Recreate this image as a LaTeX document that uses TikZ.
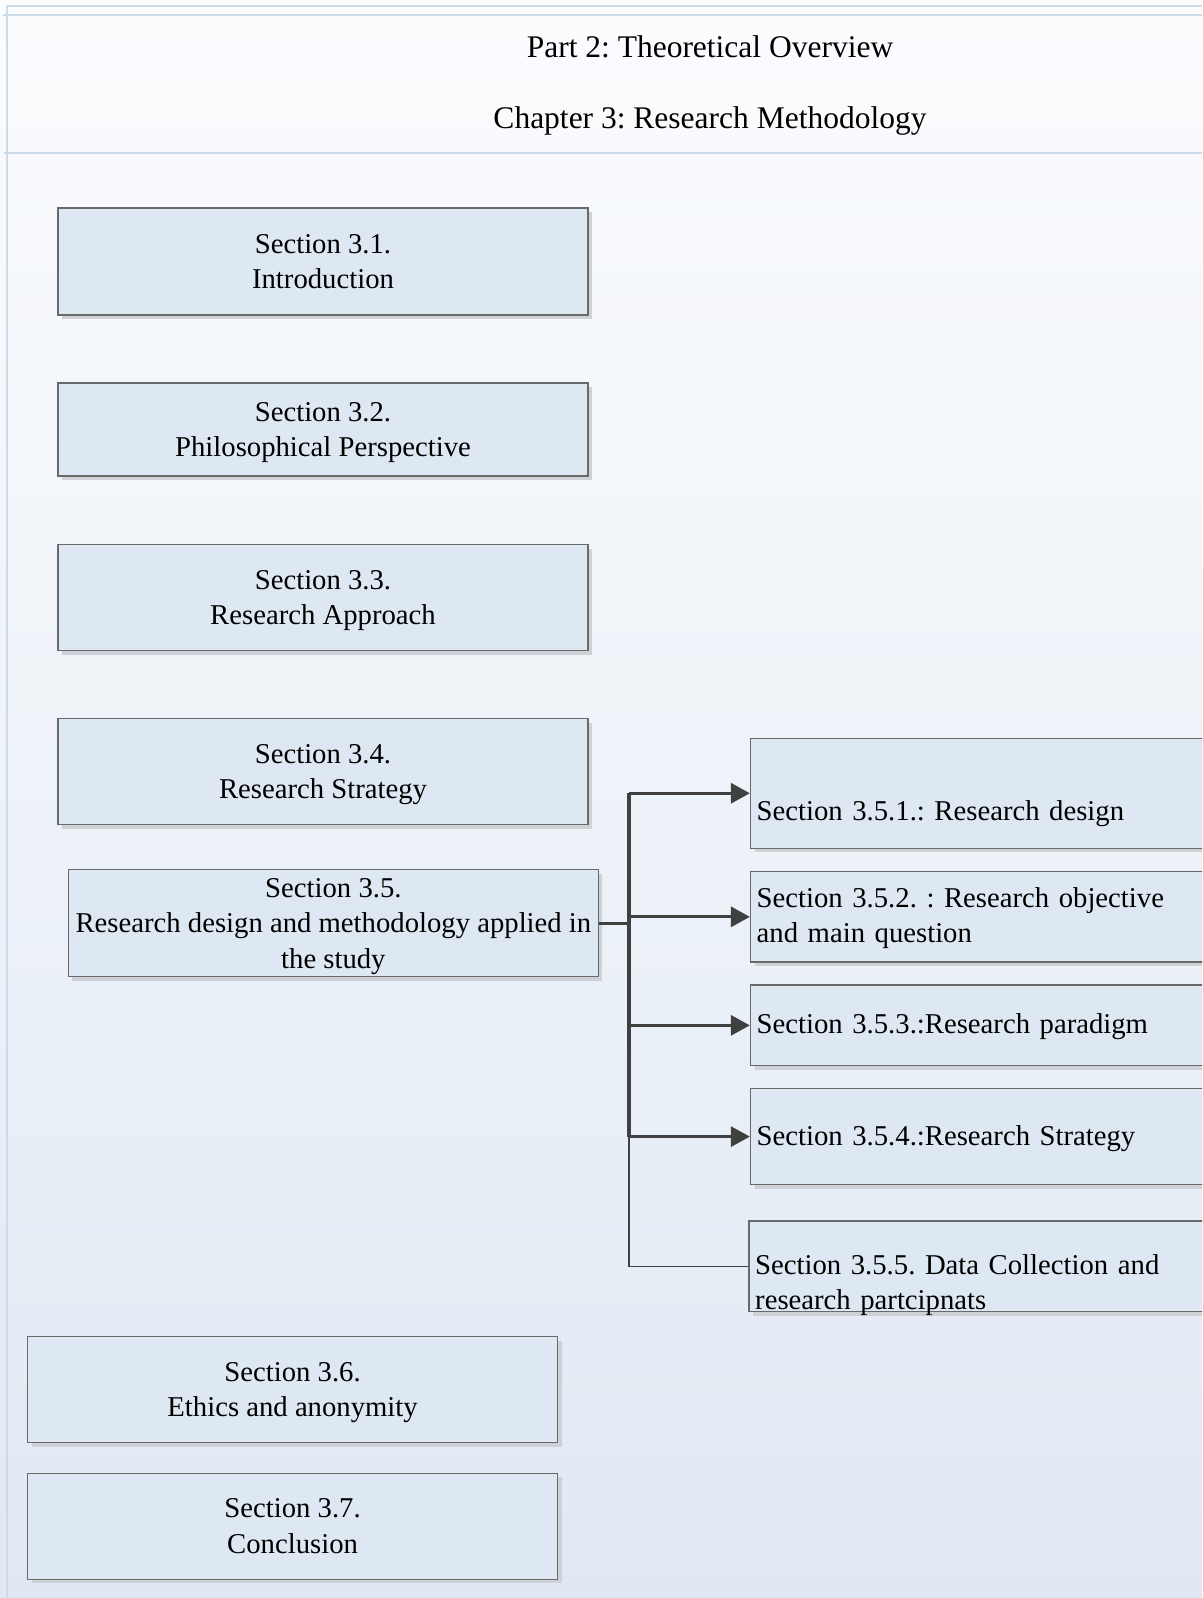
\documentclass[tikz,border=0pt]{standalone}
\usepackage{fontspec}
\setmainfont{Liberation Serif}
\usetikzlibrary{arrows.meta}
\frenchspacing

\definecolor{boxfill}{RGB}{222,232,242}
\definecolor{boxline}{RGB}{105,105,105}
\definecolor{boxshadow}{RGB}{206,210,215}
\definecolor{connc}{RGB}{64,64,64}
\definecolor{framec}{RGB}{204,219,234}
\definecolor{bgtop}{RGB}{251,252,254}
\definecolor{bgbottom}{RGB}{224,233,243}

% taller first line so labels whose last line has descenders sit a little lower
\newcommand\firstline{\rule{0pt}{25.5bp}}

\begin{document}
\begin{tikzpicture}[x=1bp,y=-1bp,
  shadowed/.style={preaction={fill=boxshadow, transform canvas={shift={(4bp,-4bp)}}}},
  secbox/.style={draw=boxline, line width=1.3bp, fill=boxfill, shadowed,
    minimum width=530bp, inner sep=0pt, align=center,
    font=\fontsize{28.7bp}{35.2bp}\selectfont},
  subbox/.style={draw=boxline, line width=1.3bp, fill=boxfill, shadowed,
    minimum width=464.5bp, inner sep=0pt},
  subtext/.style={anchor=base west, inner sep=0pt, text width=445bp, align=left,
    font=\fontsize{28.7bp}{35.2bp}\selectfont},
  headtext/.style={anchor=base, inner sep=0pt,
    font=\fontsize{31.5bp}{38bp}\selectfont},
  heavy/.style={draw=connc, line width=3.2bp},
  light/.style={draw=connc, line width=1.5bp},
  arr/.style={heavy, -{Triangle[length=19bp,width=20bp]}},
]
\useasboundingbox (0,0) rectangle (1202,1598);
\clip (0,0) rectangle (1202,1598);

% page background and pool frame
\shade[top color=bgtop, bottom color=bgbottom] (0,0) rectangle (1202,1598);
\draw[framec, line width=1.2bp] (7,1598) -- (7,6) -- (1202,6);
\draw[framec, line width=1.2bp] (3,15) -- (1202,15);
\draw[framec, line width=1.2bp] (4,153) -- (1202,153);

% header
\node[headtext] (part) at (710,58) {Part 2: Theoretical Overview};
\node[headtext] (chap) at (710,128.5) {Chapter 3: Research Methodology};

% main sections
\node[secbox, minimum height=107bp] (s31) at (323,261.5) {Section 3.1.\\Introduction};
\node[secbox, minimum height=93bp]  (s32) at (323,429.5) {\firstline Section 3.2.\\Philosophical Perspective};
\node[secbox, minimum height=106bp] (s33) at (323,597.5) {\firstline Section 3.3.\\Research Approach};
\node[secbox, minimum height=106bp] (s34) at (323,771.7) {\firstline Section 3.4.\\Research Strategy};
\node[secbox, minimum height=107bp] (s35) at (333.4,923.2) {\firstline Section 3.5.\\Research design and methodology applied in\\the study};
\node[secbox, minimum height=106bp] (s36) at (292.6,1389.6) {\firstline Section 3.6.\\Ethics and anonymity};
\node[secbox, minimum height=106bp] (s37) at (292.6,1526.2) {Section 3.7.\\Conclusion};

% sub-sections of 3.5
\node[subbox, minimum height=110bp]  (s351) at (982.75,793.25) {};
\node[subbox, minimum height=90.3bp] (s352) at (982.75,916.85) {};
\node[subbox, minimum height=80.7bp] (s353) at (982.75,1025.35) {};
\node[subbox, minimum height=96.2bp] (s354) at (982.75,1136.6) {};
\node[subbox, minimum height=90.5bp, minimum width=466bp] (s355) at (982,1266.25) {};

\node[subtext] (t351) at (756.5,820) {Section 3.5.1.: Research design};
\node[subtext] (t352) at (756.5,907) {Section 3.5.2. : Research objective\\and main question};
\node[subtext] (t353) at (756.5,1033) {Section 3.5.3.:Research paradigm};
\node[subtext] (t354) at (756.5,1145) {Section 3.5.4.:Research Strategy};
\node[subtext] (t355) at (755,1274) {Section 3.5.5. Data Collection and\\research partcipnats};

% connectors
\coordinate (tx) at (629,0);
\draw[heavy] (s35.east) -- (s35.east -| tx);
\draw[heavy] (s351.west -| tx) -- (s354.west -| tx);
\draw[light] (s354.west -| tx) -- (s355.west -| tx) -- (s355.west);
\draw[arr] (s351.west -| tx) -- (s351.west);
\draw[arr] (s352.west -| tx) -- (s352.west);
\draw[arr] (s353.west -| tx) -- (s353.west);
\draw[arr] (s354.west -| tx) -- (s354.west);
\end{tikzpicture}
\end{document}
